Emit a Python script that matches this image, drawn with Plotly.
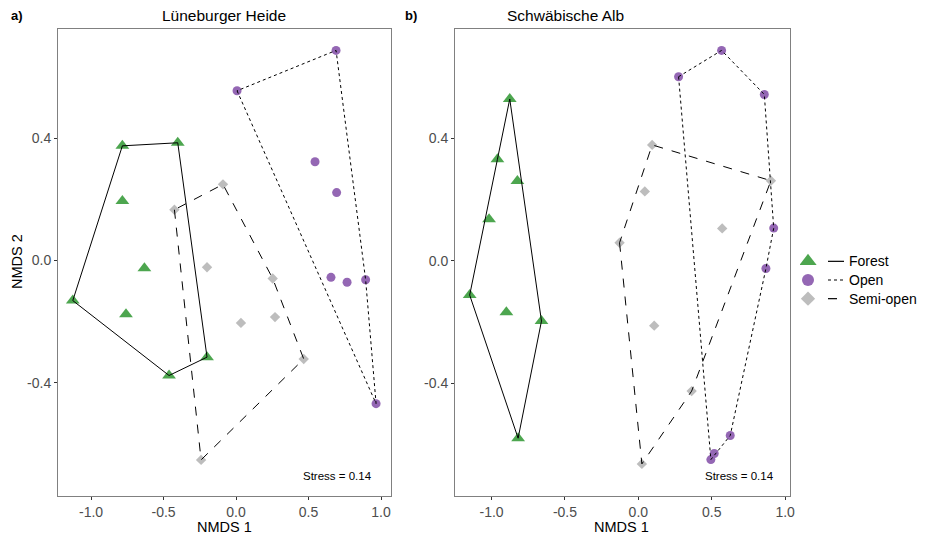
import plotly.graph_objects as go

# ---------------- data ----------------
habitats = ["Forest", "Open", "Semi-open"]

# Lüneburger Heide (panel a)
lh_forest_x = [-0.784, -0.402, -0.784, -0.632, -1.126, -0.759, -0.462, -0.200]
lh_forest_y = [0.375, 0.385, 0.195, -0.025, -0.131, -0.176, -0.376, -0.316]
lh_open_x = [0.690, 0.007, 0.545, 0.694, 0.655, 0.766, 0.894, 0.966]
lh_open_y = [0.687, 0.555, 0.323, 0.222, -0.055, -0.071, -0.063, -0.468]
lh_semi_x = [-0.090, -0.425, -0.200, 0.253, 0.034, 0.269, 0.467, -0.241]
lh_semi_y = [0.249, 0.166, -0.022, -0.059, -0.204, -0.185, -0.322, -0.652]

# Schwäbische Alb (panel b)
sa_forest_x = [-0.876, -0.960, -0.824, -1.017, -1.149, -0.899, -0.660, -0.819]
sa_forest_y = [0.529, 0.332, 0.261, 0.136, -0.112, -0.168, -0.197, -0.580]
sa_open_x = [0.567, 0.274, 0.858, 0.922, 0.869, 0.626, 0.517, 0.494]
sa_open_y = [0.688, 0.602, 0.544, 0.107, -0.025, -0.571, -0.630, -0.650]
sa_semi_x = [0.094, 0.903, 0.044, 0.571, -0.128, 0.108, 0.363, 0.024]
sa_semi_y = [0.379, 0.262, 0.227, 0.106, 0.059, -0.212, -0.426, -0.664]

stress_label = "Stress = 0.14"
x_ticks = [-1.0, -0.5, 0.0, 0.5, 1.0]
y_ticks = [-0.4, 0.0, 0.4]

# ---------------- styles ----------------
colors = {"Forest": "#4DA64F", "Open": "#9467B4", "Semi-open": "#BDBDBD"}
symbols = {"Forest": "triangle-up", "Open": "circle", "Semi-open": "diamond"}
msizes = {"Forest": 12, "Open": 9, "Semi-open": 8}
dashes = {"Forest": "solid", "Open": "dot", "Semi-open": "dash"}
FONT = "Liberation Sans, Arial, sans-serif"

# the page body adds an 8 px margin, so the figure is shrunk and shifted by it
OFF = 8
W, H = 926 - OFF, 535 - OFF


def fx(px):
    return (px - OFF) / W


def fy(py):
    return 1 - (py - OFF) / H


def hull(xs, ys):
    pts = sorted(set(zip(xs, ys)))
    if len(pts) < 3:
        return pts

    def cross(o, a, b):
        return (a[0] - o[0]) * (b[1] - o[1]) - (a[1] - o[1]) * (b[0] - o[0])

    lower, upper = [], []
    for p in pts:
        while len(lower) >= 2 and cross(lower[-2], lower[-1], p) <= 0:
            lower.pop()
        lower.append(p)
    for p in reversed(pts):
        while len(upper) >= 2 and cross(upper[-2], upper[-1], p) <= 0:
            upper.pop()
        upper.append(p)
    h = lower[:-1] + upper[:-1]
    return h + [h[0]]


fig = go.Figure()

panels = [
    ("x", "y", {"Forest": (lh_forest_x, lh_forest_y), "Open": (lh_open_x, lh_open_y),
                "Semi-open": (lh_semi_x, lh_semi_y)}),
    ("x2", "y2", {"Forest": (sa_forest_x, sa_forest_y), "Open": (sa_open_x, sa_open_y),
                  "Semi-open": (sa_semi_x, sa_semi_y)}),
]

for xa, ya, groups in panels:
    for h in habitats:
        gx, gy = groups[h]
        fig.add_trace(go.Scatter(
            x=gx, y=gy, mode="markers", xaxis=xa, yaxis=ya, showlegend=False,
            marker=dict(symbol=symbols[h], size=msizes[h], color=colors[h],
                        line=dict(width=0)),
            hoverinfo="skip"))
    for h in habitats:
        gx, gy = groups[h]
        hp = hull(gx, gy)
        fig.add_trace(go.Scatter(
            x=[p[0] for p in hp], y=[p[1] for p in hp], mode="lines",
            xaxis=xa, yaxis=ya, showlegend=False,
            line=dict(color="black", width=1, dash=dashes[h]),
            hoverinfo="skip"))

# custom legend drawn on an auxiliary axis (x3 in pixels, y3 rows)
for i, h in enumerate(habitats):
    yy = 2 - i
    fig.add_trace(go.Scatter(
        x=[8], y=[yy], mode="markers", xaxis="x3", yaxis="y3", showlegend=False,
        marker=dict(symbol=symbols[h], size=msizes[h] + 3, color=colors[h], line=dict(width=0)),
        hoverinfo="skip"))
    fig.add_trace(go.Scatter(
        x=[28, 44], y=[yy, yy], mode="lines", xaxis="x3", yaxis="y3", showlegend=False,
        line=dict(color="black", width=1.2, dash=dashes[h]), hoverinfo="skip"))
    fig.add_annotation(x=47, y=yy, xref="x3", yref="y3", text=h, showarrow=False,
                       xanchor="left", yanchor="middle",
                       font=dict(family=FONT, size=14, color="black"))
fig.add_annotation(x=-1, y=3.05, xref="x3", yref="y3", text="Habitats:", showarrow=False,
                   xanchor="left", yanchor="middle",
                   font=dict(family=FONT, size=14, color="black"))

axis_common = dict(
    showgrid=False, zeroline=False, showline=True, mirror=True,
    linecolor="#808080", linewidth=1, ticks="outside", ticklen=3,
    tickcolor="#333333", tickfont=dict(family=FONT, size=14, color="#4D4D4D"),
    automargin=False,
)

fig.update_layout(
    width=W, height=H,
    margin=dict(l=0, r=0, t=0, b=0),
    paper_bgcolor="white", plot_bgcolor="white",
    xaxis=dict(domain=[fx(58), fx(391)], range=[-1.228, 1.069], tickvals=x_ticks,
               ticktext=[f"{v:.1f}" for v in x_ticks], anchor="y", **axis_common),
    yaxis=dict(domain=[fy(496), fy(29)], range=[-0.770, 0.757], tickvals=y_ticks,
               ticktext=[f"{v:.1f}" for v in y_ticks], anchor="x", **axis_common),
    xaxis2=dict(domain=[fx(455), fx(790)], range=[-1.249, 1.033], tickvals=x_ticks,
                ticktext=[f"{v:.1f}" for v in x_ticks], anchor="y2", **axis_common),
    yaxis2=dict(domain=[fy(496), fy(29)], range=[-0.769, 0.758], tickvals=y_ticks,
                ticktext=[f"{v:.1f}" for v in y_ticks], anchor="x2", **axis_common),
    xaxis3=dict(domain=[fx(800), fx(926)], range=[0, 126], visible=False, anchor="y3",
                fixedrange=True),
    yaxis3=dict(domain=[fy(308), fy(252)], range=[-0.5, 2.5], visible=False,
                anchor="x3", fixedrange=True),
)


def paper_text(px, py, text, size, xanchor="center", bold=False, angle=0):
    fig.add_annotation(x=fx(px), y=fy(py), xref="paper", yref="paper",
                       text=f"<b>{text}</b>" if bold else text, showarrow=False,
                       xanchor=xanchor, yanchor="middle", textangle=angle,
                       font=dict(family=FONT, size=size, color="black"))


paper_text(224, 16, "Lüneburger Heide", 15.5)
paper_text(565, 16, "Schwäbische Alb", 15.5)
paper_text(9, 16, "a)", 13, xanchor="left", bold=True)
paper_text(403, 16, "b)", 13, xanchor="left", bold=True)
paper_text(224, 527, "NMDS 1", 14.5)
paper_text(621, 527, "NMDS 1", 14.5)
paper_text(17, 262, "NMDS 2", 14.5, angle=-90)

fig.add_annotation(x=0.70, y=-0.703, xref="x", yref="y", text=stress_label, showarrow=False,
                   xanchor="center", yanchor="middle", font=dict(family=FONT, size=11.5, color="black"))
fig.add_annotation(x=0.692, y=-0.703, xref="x2", yref="y2", text=stress_label, showarrow=False,
                   xanchor="center", yanchor="middle", font=dict(family=FONT, size=11.5, color="black"))

fig.write_html("out.html")
